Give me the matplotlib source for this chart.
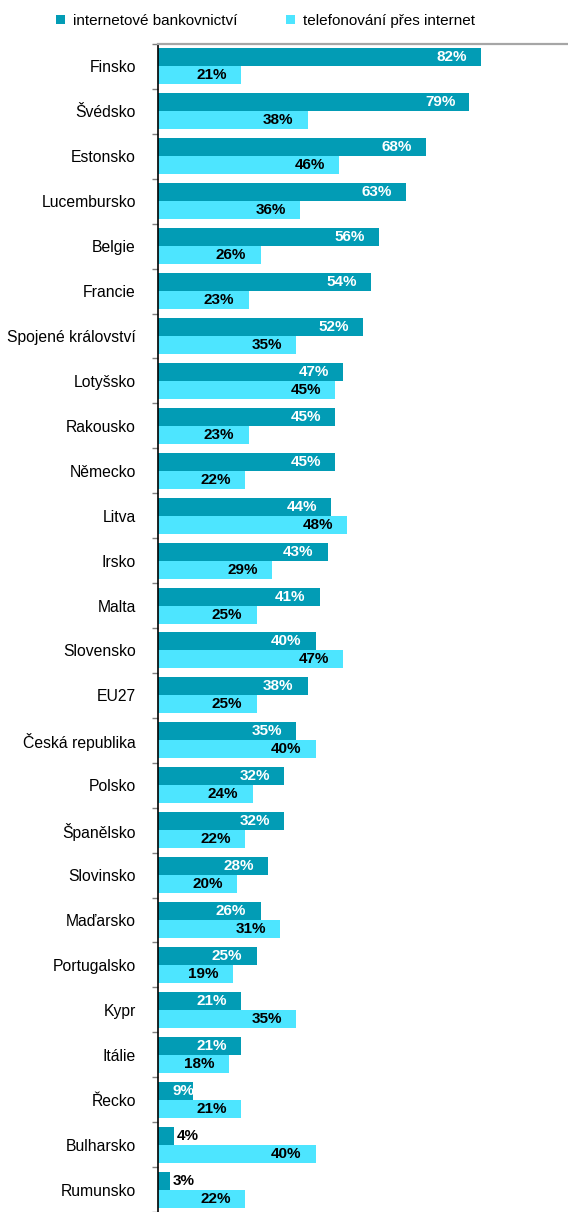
import matplotlib as mpl; mpl.use('Agg')
import matplotlib.pyplot as plt
import numpy as np

mpl.rcParams.update({'font.family': ['Liberation Sans', 'DejaVu Sans'], 'font.size': 11})

countries = ['Finsko', 'Švédsko', 'Estonsko', 'Lucembursko', 'Belgie', 'Francie', 'Spojené království',
             'Lotyšsko', 'Rakousko', 'Německo', 'Litva', 'Irsko', 'Malta', 'Slovensko', 'EU27',
             'Česká republika', 'Polsko', 'Španělsko', 'Slovinsko', 'Maďarsko', 'Portugalsko', 'Kypr',
             'Itálie', 'Řecko', 'Bulharsko', 'Rumunsko']
banking = [82, 79, 68, 63, 56, 54, 52, 47, 45, 45, 44, 43, 41, 40, 38, 35, 32, 32, 28, 26, 25, 21, 21, 9, 4, 3]
phoning = [21, 38, 46, 36, 26, 23, 35, 45, 23, 22, 48, 29, 25, 47, 25, 40, 24, 22, 20, 31, 19, 35, 18, 21, 40, 22]
series_names = ['internetové bankovnictví', 'telefonování přes internet']
DARK = '#029cb5'; LIGHT = '#4de5ff'

fig = plt.figure(figsize=(5.68, 12.12), dpi=100)
ax = fig.add_axes([158 / 568, 0.0, 1 - 158 / 568, 1 - 44 / 1212])
y = np.arange(len(countries))
h = 0.4
b1 = ax.barh(y - h / 2, banking, height=h, color=DARK, label=series_names[0])
b2 = ax.barh(y + h / 2, phoning, height=h, color=LIGHT, label=series_names[1])


def put(vals, ypos, inside_col):
    for v, yy in zip(vals, ypos):
        if v < 5:
            ax.text(v + 0.8, yy, f'{v}%', ha='left', va='center', color='black', fontsize=11, fontweight='bold')
        elif v < 15:
            ax.text(v + 0.3, yy, f'{v}%', ha='right', va='center', color=inside_col, fontsize=11, fontweight='bold')
        else:
            ax.text(v - 3.6, yy, f'{v}%', ha='right', va='center', color=inside_col, fontsize=11, fontweight='bold')


put(banking, y - h / 2, 'white')
put(phoning, y + h / 2, 'black')

ax.set_xlim(0, 104)
ax.set_ylim(len(countries) - 0.5, -0.5)
ax.set_xticks([])
ax.set_yticks(np.arange(len(countries) + 1) - 0.5)
ax.set_yticklabels([])
ax.tick_params(axis='y', which='major', length=4, width=1, color='#808080', direction='out')
ax.set_yticks(y, minor=True)
ax.set_yticklabels(countries, minor=True)
ax.tick_params(axis='y', which='minor', length=0, pad=16, labelsize=11.3)
for s in ['right', 'bottom']:
    ax.spines[s].set_visible(False)
ax.spines['top'].set_color('#a6a6a6'); ax.spines['top'].set_linewidth(1.6)
ax.spines['left'].set_color('black'); ax.spines['left'].set_linewidth(1.2)

fig.legend(handles=[b1, b2], loc='center left', bbox_to_anchor=(56 / 568, 1 - 21 / 1212), ncol=2,
           frameon=False, handlelength=0.6, handleheight=0.6, handletextpad=0.5, columnspacing=3.2,
           fontsize=11, borderpad=0, borderaxespad=0)

fig.savefig('out.png', dpi=100)
